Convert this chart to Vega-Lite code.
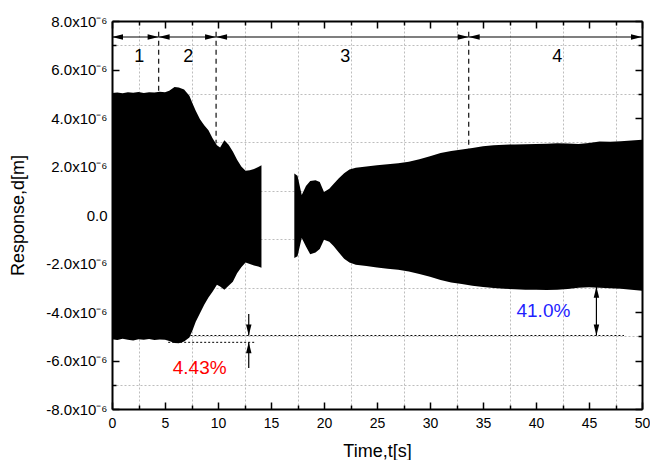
{
  "$schema": "https://vega.github.io/schema/vega-lite/v6.json",
  "width": 530,
  "height": 388,
  "autosize": {"type": "none"},
  "padding": {"left": 112, "top": 21, "right": 8, "bottom": 51},
  "background": "white",
  "config": {
    "view": {"stroke": null},
    "font": "Liberation Sans",
    "axis": {"labelFont": "Liberation Sans", "titleFont": "Liberation Sans", "labelColor": "black", "titleColor": "black", "domainColor": "black", "tickColor": "black", "titleFontWeight": "normal"}
  },
  "datasets": {
    "env": [
      {"t": 0, "hi": 5.03e-6, "lo": -5.12e-6, "seg": "a"},
      {"t": 0.5, "hi": 5.05e-6, "lo": -5.15e-6, "seg": "a"},
      {"t": 1.0, "hi": 5.02e-6, "lo": -5.10e-6, "seg": "a"},
      {"t": 1.5, "hi": 5.06e-6, "lo": -5.14e-6, "seg": "a"},
      {"t": 2.0, "hi": 5.04e-6, "lo": -5.18e-6, "seg": "a"},
      {"t": 2.5, "hi": 5.07e-6, "lo": -5.12e-6, "seg": "a"},
      {"t": 3.0, "hi": 5.03e-6, "lo": -5.14e-6, "seg": "a"},
      {"t": 3.5, "hi": 5.06e-6, "lo": -5.11e-6, "seg": "a"},
      {"t": 4.0, "hi": 5.05e-6, "lo": -5.15e-6, "seg": "a"},
      {"t": 4.5, "hi": 5.08e-6, "lo": -5.13e-6, "seg": "a"},
      {"t": 5.0, "hi": 5.06e-6, "lo": -5.14e-6, "seg": "a"},
      {"t": 5.4, "hi": 5.12e-6, "lo": -5.20e-6, "seg": "a"},
      {"t": 5.9, "hi": 5.28e-6, "lo": -5.28e-6, "seg": "a"},
      {"t": 6.3, "hi": 5.26e-6, "lo": -5.29e-6, "seg": "a"},
      {"t": 6.8, "hi": 5.18e-6, "lo": -5.22e-6, "seg": "a"},
      {"t": 7.3, "hi": 4.92e-6, "lo": -5.05e-6, "seg": "a"},
      {"t": 7.6, "hi": 4.60e-6, "lo": -4.75e-6, "seg": "a"},
      {"t": 7.9, "hi": 4.30e-6, "lo": -4.40e-6, "seg": "a"},
      {"t": 8.3, "hi": 3.95e-6, "lo": -4.05e-6, "seg": "a"},
      {"t": 8.7, "hi": 3.70e-6, "lo": -3.70e-6, "seg": "a"},
      {"t": 9.1, "hi": 3.50e-6, "lo": -3.40e-6, "seg": "a"},
      {"t": 9.5, "hi": 3.15e-6, "lo": -3.15e-6, "seg": "a"},
      {"t": 9.9, "hi": 2.88e-6, "lo": -2.88e-6, "seg": "a"},
      {"t": 10.2, "hi": 2.78e-6, "lo": -2.95e-6, "seg": "a"},
      {"t": 10.6, "hi": 3.08e-6, "lo": -3.08e-6, "seg": "a"},
      {"t": 11.0, "hi": 2.90e-6, "lo": -2.92e-6, "seg": "a"},
      {"t": 11.4, "hi": 2.62e-6, "lo": -2.75e-6, "seg": "a"},
      {"t": 11.8, "hi": 2.28e-6, "lo": -2.40e-6, "seg": "a"},
      {"t": 12.2, "hi": 2.00e-6, "lo": -2.15e-6, "seg": "a"},
      {"t": 12.6, "hi": 1.82e-6, "lo": -1.96e-6, "seg": "a"},
      {"t": 13.0, "hi": 1.85e-6, "lo": -2.02e-6, "seg": "a"},
      {"t": 13.4, "hi": 1.90e-6, "lo": -2.08e-6, "seg": "a"},
      {"t": 13.8, "hi": 1.98e-6, "lo": -2.12e-6, "seg": "a"},
      {"t": 14.1, "hi": 2.05e-6, "lo": -2.18e-6, "seg": "a"},
      {"t": 17.2, "hi": 1.71e-6, "lo": -1.77e-6, "seg": "b"},
      {"t": 17.5, "hi": 1.62e-6, "lo": -1.70e-6, "seg": "b"},
      {"t": 17.9, "hi": 0.82e-6, "lo": -0.95e-6, "seg": "b"},
      {"t": 18.3, "hi": 1.20e-6, "lo": -1.30e-6, "seg": "b"},
      {"t": 18.7, "hi": 1.40e-6, "lo": -1.62e-6, "seg": "b"},
      {"t": 19.2, "hi": 1.43e-6, "lo": -1.55e-6, "seg": "b"},
      {"t": 19.6, "hi": 1.36e-6, "lo": -1.40e-6, "seg": "b"},
      {"t": 20.0, "hi": 0.95e-6, "lo": -1.02e-6, "seg": "b"},
      {"t": 20.5, "hi": 1.08e-6, "lo": -1.10e-6, "seg": "b"},
      {"t": 20.9, "hi": 1.28e-6, "lo": -1.28e-6, "seg": "b"},
      {"t": 21.4, "hi": 1.52e-6, "lo": -1.55e-6, "seg": "b"},
      {"t": 21.9, "hi": 1.72e-6, "lo": -1.80e-6, "seg": "b"},
      {"t": 22.4, "hi": 1.88e-6, "lo": -1.96e-6, "seg": "b"},
      {"t": 23.0, "hi": 1.95e-6, "lo": -2.05e-6, "seg": "b"},
      {"t": 24.0, "hi": 2.00e-6, "lo": -2.10e-6, "seg": "b"},
      {"t": 25.0, "hi": 2.05e-6, "lo": -2.16e-6, "seg": "b"},
      {"t": 26.0, "hi": 2.09e-6, "lo": -2.22e-6, "seg": "b"},
      {"t": 27.0, "hi": 2.13e-6, "lo": -2.26e-6, "seg": "b"},
      {"t": 28.0, "hi": 2.20e-6, "lo": -2.33e-6, "seg": "b"},
      {"t": 29.0, "hi": 2.30e-6, "lo": -2.43e-6, "seg": "b"},
      {"t": 30.0, "hi": 2.42e-6, "lo": -2.55e-6, "seg": "b"},
      {"t": 31.0, "hi": 2.56e-6, "lo": -2.68e-6, "seg": "b"},
      {"t": 32.0, "hi": 2.64e-6, "lo": -2.78e-6, "seg": "b"},
      {"t": 33.0, "hi": 2.70e-6, "lo": -2.85e-6, "seg": "b"},
      {"t": 34.0, "hi": 2.76e-6, "lo": -2.92e-6, "seg": "b"},
      {"t": 35.0, "hi": 2.83e-6, "lo": -2.97e-6, "seg": "b"},
      {"t": 36.0, "hi": 2.88e-6, "lo": -3.01e-6, "seg": "b"},
      {"t": 37.0, "hi": 2.90e-6, "lo": -3.04e-6, "seg": "b"},
      {"t": 38.0, "hi": 2.91e-6, "lo": -3.06e-6, "seg": "b"},
      {"t": 39.0, "hi": 2.92e-6, "lo": -3.08e-6, "seg": "b"},
      {"t": 40.0, "hi": 2.93e-6, "lo": -3.08e-6, "seg": "b"},
      {"t": 41.0, "hi": 2.94e-6, "lo": -3.09e-6, "seg": "b"},
      {"t": 42.0, "hi": 2.96e-6, "lo": -3.08e-6, "seg": "b"},
      {"t": 43.0, "hi": 2.95e-6, "lo": -3.05e-6, "seg": "b"},
      {"t": 44.0, "hi": 2.93e-6, "lo": -3.00e-6, "seg": "b"},
      {"t": 45.0, "hi": 2.97e-6, "lo": -2.98e-6, "seg": "b"},
      {"t": 46.0, "hi": 3.03e-6, "lo": -3.00e-6, "seg": "b"},
      {"t": 47.0, "hi": 3.02e-6, "lo": -3.02e-6, "seg": "b"},
      {"t": 48.0, "hi": 3.04e-6, "lo": -3.04e-6, "seg": "b"},
      {"t": 49.0, "hi": 3.07e-6, "lo": -3.08e-6, "seg": "b"},
      {"t": 50.0, "hi": 3.10e-6, "lo": -3.12e-6, "seg": "b"}
    ],
    "bounds": [
      {"t": 4.4, "y1": 7.56e-6, "y2": 5.04e-6},
      {"t": 9.82, "y1": 7.56e-6, "y2": 2.96e-6},
      {"t": 33.65, "y1": 7.56e-6, "y2": 2.72e-6}
    ],
    "spans": [
      {"x1": 0, "x2": 4.4, "y": 7.34e-6},
      {"x1": 4.4, "x2": 9.82, "y": 7.34e-6},
      {"x1": 9.82, "x2": 33.65, "y": 7.34e-6},
      {"x1": 33.65, "x2": 50, "y": 7.34e-6}
    ],
    "dotted": [
      {"x1": 7.4, "x2": 48.3, "y": -4.97e-6},
      {"x1": 5.3, "x2": 13.6, "y": -5.25e-6}
    ],
    "shafts": [
      {"t": 12.9, "y1": -4.08e-6, "y2": -4.97e-6},
      {"t": 12.9, "y1": -6.31e-6, "y2": -5.25e-6},
      {"t": 45.7, "y1": -2.96e-6, "y2": -4.97e-6}
    ],
    "heads": [
      {"t": 0, "y": 7.34e-6, "dir": "left"},
      {"t": 4.4, "y": 7.34e-6, "dir": "left"},
      {"t": 9.82, "y": 7.34e-6, "dir": "left"},
      {"t": 33.65, "y": 7.34e-6, "dir": "left"},
      {"t": 4.4, "y": 7.34e-6, "dir": "right"},
      {"t": 9.82, "y": 7.34e-6, "dir": "right"},
      {"t": 33.65, "y": 7.34e-6, "dir": "right"},
      {"t": 50, "y": 7.34e-6, "dir": "right"},
      {"t": 12.9, "y": -4.97e-6, "dir": "down"},
      {"t": 12.9, "y": -5.25e-6, "dir": "up"},
      {"t": 45.7, "y": -2.96e-6, "dir": "up"},
      {"t": 45.7, "y": -4.97e-6, "dir": "down"}
    ],
    "phases": [
      {"t": 2.58, "y": 6.52e-6, "label": "1"},
      {"t": 7.2, "y": 6.52e-6, "label": "2"},
      {"t": 22.0, "y": 6.52e-6, "label": "3"},
      {"t": 42.0, "y": 6.52e-6, "label": "4"}
    ],
    "pct": [
      {"t": 8.27, "y": -6.31e-6, "label": "4.43%", "grp": "red"},
      {"t": 40.7, "y": -3.94e-6, "label": "41.0%", "grp": "blue"}
    ]
  },
  "resolve": {"axis": {"x": "independent", "y": "independent"}},
  "layer": [
    {
      "data": {"name": "env"},
      "mark": {"type": "area", "color": "black", "opacity": 1},
      "encoding": {
        "x": {
          "field": "t", "type": "quantitative",
          "scale": {"domain": [0, 50], "nice": false, "zero": false},
          "axis": {
            "orient": "bottom",
            "values": [0, 2.5, 5, 7.5, 10, 12.5, 15, 17.5, 20, 22.5, 25, 27.5, 30, 32.5, 35, 37.5, 40, 42.5, 45, 47.5, 50],
            "labelExpr": "datum.value % 5 === 0 ? format(datum.value, 'd') : ''",
            "tickSize": {"condition": {"test": "datum.value % 5 === 0", "value": -7}, "value": -4},
            "tickWidth": 1.5,
            "labelPadding": 14,
            "labelFontSize": 14,
            "labelFlush": false,
            "domainWidth": 2,
            "grid": false,
            "title": "Time,t[s]",
            "titleFontSize": 18,
            "titleY": 42,
            "titleBaseline": "middle",
            "zindex": 1
          }
        },
        "y": {
          "field": "hi", "type": "quantitative",
          "scale": {"domain": [-8e-6, 8e-6], "nice": false, "zero": false},
          "axis": {
            "orient": "left",
            "values": [-8e-6, -7e-6, -6e-6, -5e-6, -4e-6, -3e-6, -2e-6, -1e-6, 0, 1e-6, 2e-6, 3e-6, 4e-6, 5e-6, 6e-6, 7e-6, 8e-6],
            "labelExpr": "abs(round(datum.value*1e6)) % 2 === 0 ? (round(datum.value*1e6) === 0 ? '0.0' : replace(format(datum.value*1e6, '.1f'), '\u2212', '-') + 'x10\u207b\u2076') : ''",
            "tickSize": {"condition": {"test": "abs(round(datum.value*1e6)) % 2 === 0", "value": -7}, "value": -4},
            "tickWidth": 1.5,
            "labelPadding": 12,
            "labelFontSize": 15,
            "labelFlush": false,
            "domainWidth": 2,
            "grid": false,
            "title": "Response,d[m]",
            "titleFontSize": 18,
            "titleX": -94,
            "titleY": 194,
            "titleBaseline": "middle",
            "zindex": 1
          }
        },
        "y2": {"field": "lo"},
        "detail": {"field": "seg"}
      }
    },
    {
      "data": {"name": "bounds"},
      "mark": {"type": "rule", "color": "#222222", "strokeWidth": 1.3, "strokeDash": [5, 4]},
      "encoding": {
        "x": {
          "field": "t", "type": "quantitative",
          "axis": {
            "orient": "top",
            "values": [0, 2.5, 5, 7.5, 10, 12.5, 15, 17.5, 20, 22.5, 25, 27.5, 30, 32.5, 35, 37.5, 40, 42.5, 45, 47.5, 50],
            "labels": false,
            "tickSize": {"condition": {"test": "datum.value % 5 === 0", "value": -7}, "value": -4},
            "tickWidth": 1.5,
            "domainWidth": 2,
            "grid": true,
            "gridColor": "#bdbdbd",
            "gridDash": [2, 2],
            "gridOpacity": {"condition": {"test": "datum.value % 5 === 0", "value": 0}, "value": 1},
            "title": null,
            "zindex": 0
          }
        },
        "y": {
          "field": "y1", "type": "quantitative",
          "axis": {
            "orient": "right",
            "values": [-8e-6, -7e-6, -6e-6, -5e-6, -4e-6, -3e-6, -2e-6, -1e-6, 0, 1e-6, 2e-6, 3e-6, 4e-6, 5e-6, 6e-6, 7e-6, 8e-6],
            "labels": false,
            "tickSize": {"condition": {"test": "abs(round(datum.value*1e6)) % 2 === 0", "value": -7}, "value": -4},
            "tickWidth": 1.5,
            "domainWidth": 2,
            "grid": true,
            "gridColor": "#bdbdbd",
            "gridDash": [2, 2],
            "gridOpacity": {"condition": {"test": "abs(round(datum.value*1e6)) % 2 === 0", "value": 0}, "value": 1},
            "title": null,
            "zindex": 0
          }
        },
        "y2": {"field": "y2"}
      }
    },
    {
      "data": {"name": "spans"},
      "mark": {"type": "rule", "color": "black", "strokeWidth": 1.2},
      "encoding": {
        "x": {"field": "x1", "type": "quantitative", "axis": null},
        "x2": {"field": "x2"},
        "y": {"field": "y", "type": "quantitative", "axis": null}
      }
    },
    {
      "data": {"name": "dotted"},
      "mark": {"type": "rule", "color": "black", "strokeWidth": 1, "strokeDash": [2, 2]},
      "encoding": {
        "x": {"field": "x1", "type": "quantitative", "axis": null},
        "x2": {"field": "x2"},
        "y": {"field": "y", "type": "quantitative", "axis": null}
      }
    },
    {
      "data": {"name": "shafts"},
      "mark": {"type": "rule", "color": "black", "strokeWidth": 1.2},
      "encoding": {
        "x": {"field": "t", "type": "quantitative", "axis": null},
        "y": {"field": "y1", "type": "quantitative", "axis": null},
        "y2": {"field": "y2"}
      }
    },
    {
      "data": {"name": "heads"},
      "mark": {"type": "point", "filled": true, "color": "black", "opacity": 1, "strokeWidth": 0},
      "encoding": {
        "x": {"field": "t", "type": "quantitative", "axis": null},
        "y": {"field": "y", "type": "quantitative", "axis": null},
        "shape": {
          "field": "dir", "type": "nominal", "legend": null,
          "scale": {
            "domain": ["left", "right", "up", "down"],
            "range": ["M0,0L2,-0.5L2,0.5Z", "M0,0L-2,-0.5L-2,0.5Z", "M0,0L-0.5,2L0.5,2Z", "M0,0L-0.5,-2L0.5,-2Z"]
          }
        },
        "size": {"value": 121}
      }
    },
    {
      "data": {"name": "phases"},
      "mark": {"type": "text", "fontSize": 18, "color": "black", "font": "Liberation Sans", "baseline": "middle", "align": "center"},
      "encoding": {
        "x": {"field": "t", "type": "quantitative", "axis": null},
        "y": {"field": "y", "type": "quantitative", "axis": null},
        "text": {"field": "label"}
      }
    },
    {
      "data": {"name": "pct"},
      "mark": {"type": "text", "fontSize": 19, "font": "Liberation Sans", "baseline": "middle", "align": "center"},
      "encoding": {
        "x": {"field": "t", "type": "quantitative", "axis": null},
        "y": {"field": "y", "type": "quantitative", "axis": null},
        "text": {"field": "label"},
        "color": {"field": "grp", "type": "nominal", "legend": null, "scale": {"domain": ["red", "blue"], "range": ["#ff0000", "#1f1fff"]}}
      }
    }
  ]
}
